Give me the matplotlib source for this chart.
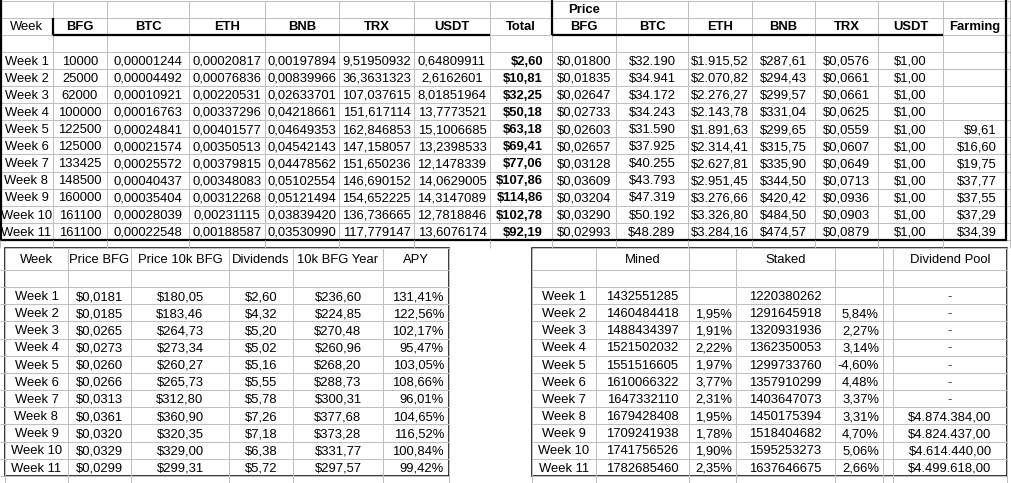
import matplotlib.pyplot as plt

plt.rcParams['font.family'] = ['Liberation Sans', 'DejaVu Sans']

# ---- data: top table (holdings and prices per week) ----
weeks = ["Week %d" % i for i in range(1, 12)]
bfg_held = [10000, 25000, 62000, 100000, 122500, 125000, 133425, 148500, 160000, 161100, 161100]
btc_held = [0.00001244, 0.00004492, 0.00010921, 0.00016763, 0.00024841, 0.00021574,
            0.00025572, 0.00040437, 0.00035404, 0.00028039, 0.00022548]
eth_held = [0.00020817, 0.00076836, 0.00220531, 0.00337296, 0.00401577, 0.00350513,
            0.00379815, 0.00348083, 0.00312268, 0.00231115, 0.00188587]
bnb_held = [0.00197894, 0.00839966, 0.02633701, 0.04218661, 0.04649353, 0.04542143,
            0.04478562, 0.05102554, 0.05121494, 0.03839420, 0.03530990]
trx_held = [9.51950932, 36.3631323, 107.037615, 151.617114, 162.846853, 147.158057,
            151.650236, 146.690152, 154.652225, 136.736665, 117.779147]
usdt_held = [0.64809911, 2.6162601, 8.01851964, 13.7773521, 15.1006685, 13.2398533,
             12.1478339, 14.0629005, 14.3147089, 12.7818846, 13.6076174]
total_usd = [2.60, 10.81, 32.25, 50.18, 63.18, 69.41, 77.06, 107.86, 114.86, 102.78, 92.19]
price_bfg = [0.01800, 0.01835, 0.02647, 0.02733, 0.02603, 0.02657, 0.03128, 0.03609,
             0.03204, 0.03290, 0.02993]
price_btc = [32190, 34941, 34172, 34243, 31590, 37925, 40255, 43793, 47319, 50192, 48289]
price_eth = [1915.52, 2070.82, 2276.27, 2143.78, 1891.63, 2314.41, 2627.81, 2951.45,
             3276.66, 3326.80, 3284.16]
price_bnb = [287.61, 294.43, 299.57, 331.04, 299.65, 315.75, 335.90, 344.50, 420.42,
             484.50, 474.57]
price_trx = [0.0576, 0.0661, 0.0661, 0.0625, 0.0559, 0.0607, 0.0649, 0.0713, 0.0936,
             0.0903, 0.0879]
price_usdt = [1.00, 1.00, 1.00, 1.00, 1.00, 1.00, 1.00, 1.00, 1.00, 1.00, 1.00]
farming = [None, None, None, None, 9.61, 16.60, 19.75, 37.77, 37.55, 37.29, 34.39]

# ---- data: bottom-left table (dividend yield) ----
bfg_price4 = [0.0181, 0.0185, 0.0265, 0.0273, 0.0260, 0.0266, 0.0313, 0.0361, 0.0320,
              0.0329, 0.0299]
price_10k = [180.05, 183.46, 264.73, 273.34, 260.27, 265.73, 312.80, 360.90, 320.35,
             329.00, 299.31]
dividends = [2.60, 4.32, 5.20, 5.02, 5.16, 5.55, 5.78, 7.26, 7.18, 6.38, 5.72]
year_10k = [236.60, 224.85, 270.48, 260.96, 268.20, 288.73, 300.31, 377.68, 373.28,
            331.77, 297.57]
apy = [131.41, 122.56, 102.17, 95.47, 103.05, 108.66, 96.01, 104.65, 116.52, 100.84, 99.42]

# ---- data: bottom-right table (supply) ----
mined = [1432551285, 1460484418, 1488434397, 1521502032, 1551516605, 1610066322,
         1647332110, 1679428408, 1709241938, 1741756526, 1782685460]
mined_pct = [None, 1.95, 1.91, 2.22, 1.97, 3.77, 2.31, 1.95, 1.78, 1.90, 2.35]
staked = [1220380262, 1291645918, 1320931936, 1362350053, 1299733760, 1357910299,
          1403647073, 1450175394, 1518404682, 1595253273, 1637646675]
staked_pct = [None, 5.84, 2.27, 3.14, -4.60, 4.48, 3.37, 3.31, 4.70, 5.06, 2.66]
div_pool = [None, None, None, None, None, None, None, 4874384.00, 4824437.00,
            4614440.00, 4499618.00]


def eu(v, dec, sep=True):
    # european style: '.' thousands, ',' decimals
    s = f"{v:,.{dec}f}" if sep else f"{v:.{dec}f}"
    return s.replace(",", "#").replace(".", ",").replace("#", ".")


def general(v):
    dec = 8 if v < 1 else 9 - len(str(int(v)))
    s = f"{v:.{dec}f}".rstrip("0")
    return s.replace(".", ",")


def money(dec, sep=True):
    return lambda v: "$" + eu(v, dec, sep)


GRID = "#c0c0c0"
FS = 9.4

fig = plt.figure(figsize=(10.11, 4.83), dpi=100)
ax = fig.add_axes([0, 0, 1, 1])
ax.set_xlim(0, 1011)
ax.set_ylim(483, 0)
ax.axis("off")


def hline(y, x0, x1, c=GRID, lw=0.75):
    ax.plot([x0, x1], [y, y], color=c, lw=lw, solid_capstyle="butt")


def vline(x, y0, y1, c=GRID, lw=0.75):
    ax.plot([x, x], [y0, y1], color=c, lw=lw, solid_capstyle="butt")


def cell(text, cols, rows, ci, ri, align="center", bold=False, color="black", pad=4):
    x0, x1 = cols[ci], cols[ci + 1]
    yc = (rows[ri] + rows[ri + 1]) / 2 + 1.3
    if align == "center":
        x = (x0 + x1) / 2
    elif align == "right":
        x = x1 - pad
    else:
        x = x0 + pad
    ax.text(x, yc, text, ha=align, va="center", fontsize=FS, color=color,
            fontweight="bold" if bold else "normal")


def grid(cols, rows):
    for y in rows:
        hline(y, cols[0], cols[-1])
    for x in cols:
        vline(x, rows[0], rows[-1])


# ================= top table =================
tcols = [0, 53, 107, 189, 265, 339, 414, 490, 552, 616, 688, 752, 815, 878, 943, 1006]
trows = [0.5 + 17.1 * k for k in range(15)]
grid(tcols, trows)
# sheet grid continuing on the right
vline(1009.5, 0, 248)
for y in trows:
    hline(y, 1006, 1011)

top_heads = ["Week", "BFG", "BTC", "ETH", "BNB", "TRX", "USDT", "Total",
             "BFG", "BTC", "ETH", "BNB", "TRX", "USDT", "Farming"]
for ci, h in enumerate(top_heads):
    cell(h, tcols, trows, ci, 1, bold=(ci > 0))
cell("Price", tcols, trows, 8, 0, bold=True)

top_series = [
    (bfg_held, str, "center", False),
    (btc_held, lambda v: eu(v, 8, False), "center", False),
    (eth_held, lambda v: eu(v, 8, False), "center", False),
    (bnb_held, lambda v: eu(v, 8, False), "center", False),
    (trx_held, general, "center", False),
    (usdt_held, general, "center", False),
    (total_usd, money(2), "right", True),
    (price_bfg, money(5), "center", False),
    (price_btc, money(0), "center", False),
    (price_eth, money(2), "center", False),
    (price_bnb, money(2), "center", False),
    (price_trx, money(4), "center", False),
    (price_usdt, money(2), "center", False),
    (farming, money(2), "right", False),
]
for i, w in enumerate(weeks):
    cell(w, tcols, trows, 0, i + 3)
    for ci, (vals, f, al, b) in enumerate(top_series, start=1):
        if vals[i] is not None:
            cell(f(vals[i]), tcols, trows, ci, i + 3, align=al, bold=b, pad=9)

# thick borders
TH = 1.6
vline(0.8, 0, 240.5, c="black", lw=TH)
vline(1006, 0, 240.5, c="black", lw=TH)
hline(239.8, 0, 1007, c="black", lw=TH)
vline(53, trows[1], trows[2], c="black", lw=TH)
hline(trows[2], 53, 490, c="black", lw=TH)
vline(552, 0, trows[2], c="black", lw=TH)
hline(trows[2], 552, 943, c="black", lw=TH)

# ================= bottom tables =================
brows = [248, 270] + [270 + 17.15 * k for k in range(1, 13)]

# sheet grid peeking between/around the tables
for x in tcols[:-1]:
    vline(x, 240, 248)
for y in brows[1:]:
    hline(y, 0, 5)

# bottom-left
lcols = [5, 68, 131, 229, 293, 383, 449]
grid(lcols, brows)
for x in lcols:
    vline(x, brows[-1], 483)
left_heads = ["Week", "Price BFG", "Price 10k BFG", "Dividends", "10k BFG Year", "APY"]
for ci, h in enumerate(left_heads):
    cell(h, lcols, brows, ci, 0)
left_series = [
    (bfg_price4, money(4), "center"),
    (price_10k, money(2), "center"),
    (dividends, money(2), "center"),
    (year_10k, money(2), "center"),
    (apy, lambda v: eu(v, 2) + "%", "right"),
]
for i, w in enumerate(weeks):
    cell(w, lcols, brows, 0, i + 2)
    for ci, (vals, f, al) in enumerate(left_series, start=1):
        cell(f(vals[i]), lcols, brows, ci, i + 2, align=al, pad=5)
ax.add_patch(plt.Rectangle((lcols[0], brows[0]), lcols[-1] - lcols[0],
                           brows[-1] - brows[0], fill=False, ec="black", lw=1.1))

# bottom-right
rcols = [532, 596, 689, 736, 835, 883, 893, 1007]
grid(rcols, brows)
for x in rcols:
    vline(x, brows[-1], 483)
right_heads = ["", "Mined", "", "Staked", "", "", "Dividend Pool"]
for ci, h in enumerate(right_heads):
    if h:
        cell(h, rcols, brows, ci, 0)
for i, w in enumerate(weeks):
    cell(w, rcols, brows, 0, i + 2)
    cell(str(mined[i]), rcols, brows, 1, i + 2)
    if mined_pct[i] is not None:
        cell(eu(mined_pct[i], 2) + "%", rcols, brows, 2, i + 2, align="right", pad=4)
    cell(str(staked[i]), rcols, brows, 3, i + 2)
    if staked_pct[i] is not None:
        cell(eu(staked_pct[i], 2) + "%", rcols, brows, 4, i + 2, align="right", pad=4)
    if div_pool[i] is None:
        cell("-", rcols, brows, 6, i + 2, color="#333333")
    else:
        cell("$" + eu(div_pool[i], 2), rcols, brows, 6, i + 2)
ax.add_patch(plt.Rectangle((rcols[0], brows[0]), rcols[-1] - rcols[0],
                           brows[-1] - brows[0], fill=False, ec="black", lw=1.1))

fig.savefig("out.png", dpi=100, facecolor="white")
